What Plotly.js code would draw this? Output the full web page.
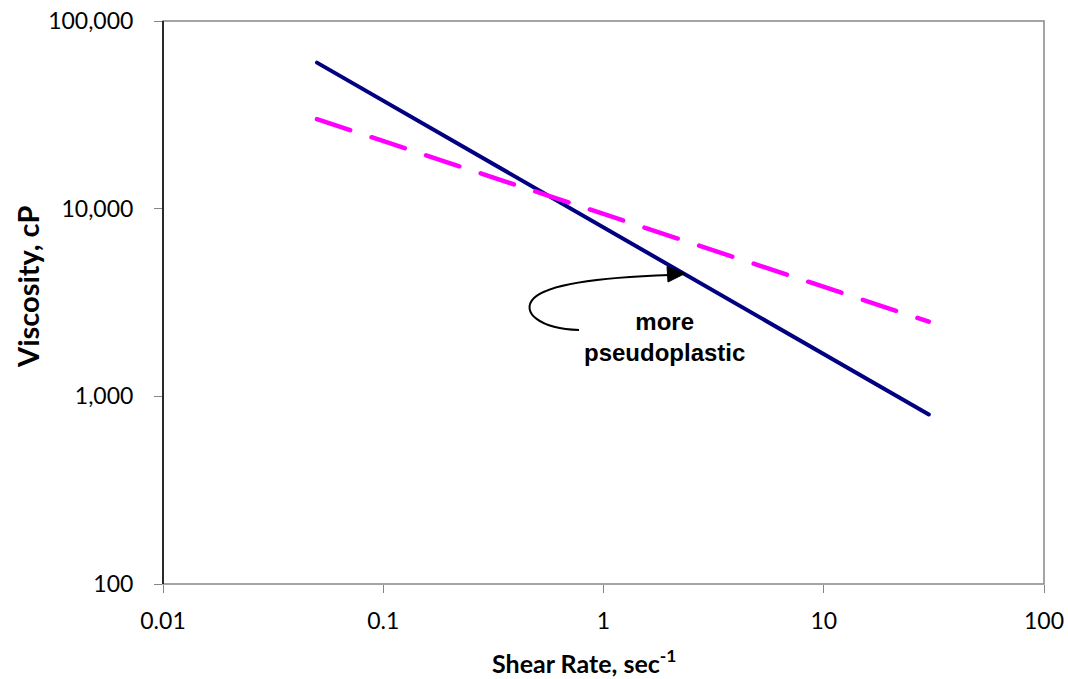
<!DOCTYPE html>
<html>
<head>
<meta charset="utf-8">
<script src="https://cdn.plot.ly/plotly-3.0.1.min.js"></script>
<style>
html,body{margin:0;padding:0;background:#fff;}
#chart{width:1068px;height:679px;}
.scatterlayer path.js-line{stroke-linecap:round;}
</style>
</head>
<body>
<div id="chart"></div>
<script>
// Data
const shearRate = [0.05, 30];                 // sec^-1
const viscosityPseudo = [60000, 800];         // cP, solid navy (more pseudoplastic)
const viscosityLess = [30000, 2500];          // cP, dashed magenta
const xTickVals = [0.01, 0.1, 1, 10, 100];
const xTickText = ['0.01', '0.1', '1', '10', '100'];
const yTickVals = [100, 1000, 10000, 100000];
const yTickText = ['100', '1,000', '10,000', '100,000'];
const xTitle = 'Shear Rate, sec<sup>-1</sup>';
const yTitle = 'Viscosity, cP';
const noteText = 'more<br>pseudoplastic';

const W = 1068, H = 679;
const M = {l: 163, r: 24, t: 21, b: 95};
const PW = W - M.l - M.r, PH = H - M.t - M.b;
// convert pixel location in page to paper fraction (for annotation placement)
const px = x => +((x - M.l) / PW).toFixed(4);
const py = y => +((H - M.b - y) / PH).toFixed(4);

const traces = [
  {x: shearRate, y: viscosityPseudo, mode: 'lines', type: 'scatter',
   line: {color: '#000080', width: 4}, showlegend: false, hoverinfo: 'x+y'},
  {x: shearRate, y: viscosityLess, mode: 'lines', type: 'scatter',
   line: {color: '#FF00FF', width: 4.5, dash: '35px,22.5px'}, showlegend: false, hoverinfo: 'x+y'}
];

const curvePath = 'M ' + px(579) + ' ' + py(330) +
  ' C ' + px(540) + ' ' + py(329) + ', ' + px(520) + ' ' + py(312) + ', ' + px(534) + ' ' + py(298) +
  ' C ' + px(550) + ' ' + py(283) + ', ' + px(610) + ' ' + py(277) + ', ' + px(670) + ' ' + py(275);

const headPath = 'M ' + px(685) + ' ' + py(273.5) +
  ' L ' + px(667) + ' ' + py(266.5) +
  ' L ' + px(668) + ' ' + py(282) + ' Z';

const tickFont = {family: 'Lato, "Liberation Sans", sans-serif', size: 23, color: '#000'};

const layout = {
  width: W, height: H,
  margin: M,
  paper_bgcolor: '#fff', plot_bgcolor: '#fff',
  font: {family: 'Lato, "Liberation Sans", Arial, sans-serif', color: '#000', size: 23},
  showlegend: false,
  xaxis: {
    type: 'log', range: [-2, 2],
    tickvals: xTickVals, ticktext: xTickText,
    ticks: 'outside', ticklen: 8, tickwidth: 1, tickcolor: '#868686',
    ticklabelstandoff: 8,
    showline: false, showgrid: false, zeroline: false,
    tickfont: tickFont
  },
  yaxis: {
    type: 'log', range: [2, 5],
    tickvals: yTickVals, ticktext: yTickText,
    ticks: 'outside', ticklen: 8, tickwidth: 1, tickcolor: '#868686',
    ticklabelstandoff: 16,
    showline: false, showgrid: false, zeroline: false,
    tickfont: tickFont
  },
  shapes: [
    {type: 'rect', xref: 'paper', yref: 'paper', x0: 0, x1: 1, y0: 0, y1: 1,
     line: {color: '#868686', width: 1.5}, layer: 'below'},
    {type: 'line', xref: 'paper', yref: 'paper', x0: 0, x1: 0, y0: 0, y1: 1,
     line: {color: '#000', width: 1.5}, layer: 'above'},
    {type: 'path', xref: 'paper', yref: 'paper', path: curvePath,
     line: {color: '#000', width: 2}, fillcolor: 'rgba(0,0,0,0)'},
    {type: 'path', xref: 'paper', yref: 'paper', path: headPath,
     line: {color: '#000', width: 1}, fillcolor: '#000'}
  ],
  annotations: [
    {xref: 'paper', yref: 'paper', x: px(665), y: py(337), text: '<b>' + noteText + '</b>',
     showarrow: false, xanchor: 'center', yanchor: 'middle', align: 'center',
     font: {family: '"Liberation Sans", Arial, sans-serif', size: 24, color: '#000'}},
    {xref: 'paper', yref: 'paper', x: px(584), y: py(661), text: '<b>' + xTitle + '</b>',
     showarrow: false, xanchor: 'center', yanchor: 'middle',
     font: {family: 'Lato, "Liberation Sans", sans-serif', size: 25, color: '#000'}},
    {xref: 'paper', yref: 'paper', x: px(27), y: py(287), text: '<b>' + yTitle + '</b>',
     showarrow: false, xanchor: 'center', yanchor: 'middle', textangle: -90,
     font: {family: 'Lato, "Liberation Sans", sans-serif', size: 29, color: '#000'}}
  ]
};

Plotly.newPlot('chart', traces, layout, {displayModeBar: false, staticPlot: true});
</script>
</body>
</html>
